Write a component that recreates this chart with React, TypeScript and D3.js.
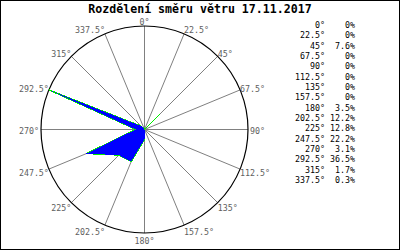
import React from "react";
import * as d3 from "d3";

const directions = [0, 22.5, 45, 67.5, 90, 112.5, 135, 157.5, 180, 202.5, 225, 247.5, 270, 292.5, 315, 337.5];
const values = [0, 0, 7.6, 0, 0, 0, 0, 0, 3.5, 12.2, 12.8, 22.2, 3.1, 36.5, 1.7, 0.3];
const dirLabels = ["0°", "22.5°", "45°", "67.5°", "90°", "112.5°", "135°", "157.5°", "180°", "202.5°", "225°", "247.5°", "270°", "292.5°", "315°", "337.5°"];
const pctLabels = ["0%", "0%", "7.6%", "0%", "0%", "0%", "0%", "0%", "3.5%", "12.2%", "12.8%", "22.2%", "3.1%", "36.5%", "1.7%", "0.3%"];
const title = "Rozdělení směru větru 17.11.2017";

const W = 400;
const H = 250;
const cx = 144.5;
const cy = 129.5;
const R = 103.5;
const MONO = "'DejaVu Sans Mono', monospace";

export default function App() {
  const rScale = d3.scaleLinear().domain([0, d3.max(values) as number]).range([0, R]);
  const rad = (a: number) => (a * Math.PI) / 180;

  const pts = directions.map((a, i) => ({ a, v: values[i] }));
  const line = d3
    .lineRadial<{ a: number; v: number }>()
    .angle((d) => rad(d.a))
    .radius((d) => rScale(d.v))
    .curve(d3.curveLinearClosed);
  const path = line(pts) || "";

  const legendY = d3.scaleLinear().domain([0, 15]).range([28, 183]);

  return (
    <div style={{ position: "fixed", left: 0, top: 0, width: W, height: H, background: "#fff" }}>
      <svg width={W} height={H} viewBox={`0 0 ${W} ${H}`} style={{ display: "block" }}>
        <rect x={0.5} y={0.5} width={W - 1} height={H - 1} fill="#fff" stroke="#000" strokeWidth={1} />
        <text
          x={200}
          y={13}
          textAnchor="middle"
          fontFamily={MONO}
          fontWeight="bold"
          fontSize={11.6}
          fill="#000"
        >
          {title}
        </text>
        <g transform={`translate(${cx},${cy})`}>
          {directions.map((a, i) => (
            <line
              key={"s" + i}
              x1={0}
              y1={0}
              x2={R * Math.sin(rad(a))}
              y2={-R * Math.cos(rad(a))}
              stroke="#808080"
              strokeWidth={1}
            />
          ))}
          <circle cx={0} cy={0} r={R} fill="none" stroke="#000" strokeWidth={1.2} />
          <path d={path} fill="none" stroke="#00ee00" strokeWidth={1.2} shapeRendering="crispEdges" />
          <path d={path} fill="#0000ff" stroke="none" shapeRendering="crispEdges" />
        </g>
        {directions.map((a, i) => {
          const s = Math.sin(rad(a));
          const c = Math.cos(rad(a));
          const px = cx + R * s;
          const py = cy - R * c;
          const anchor = s > 0.01 ? "start" : s < -0.01 ? "end" : "middle";
          const dx = Math.abs(c) < 0.01 ? (s > 0 ? 2 : -2) : 0;
          const top = py - 8 + (1 - c) * 6;
          return (
            <text
              key={"l" + i}
              x={px + dx}
              y={top + 6.5}
              textAnchor={anchor}
              fontFamily={MONO}
              fontSize={8.3}
              fill="#606060"
            >
              {dirLabels[i]}
            </text>
          );
        })}
        {dirLabels.map((lab, i) => (
          <g key={"g" + i}>
            <text x={325} y={legendY(i)} textAnchor="end" fontFamily={MONO} fontSize={8.3} fill="#000">
              {lab}
            </text>
            <text x={355} y={legendY(i)} textAnchor="end" fontFamily={MONO} fontSize={8.3} fill="#000">
              {pctLabels[i]}
            </text>
          </g>
        ))}
      </svg>
    </div>
  );
}
